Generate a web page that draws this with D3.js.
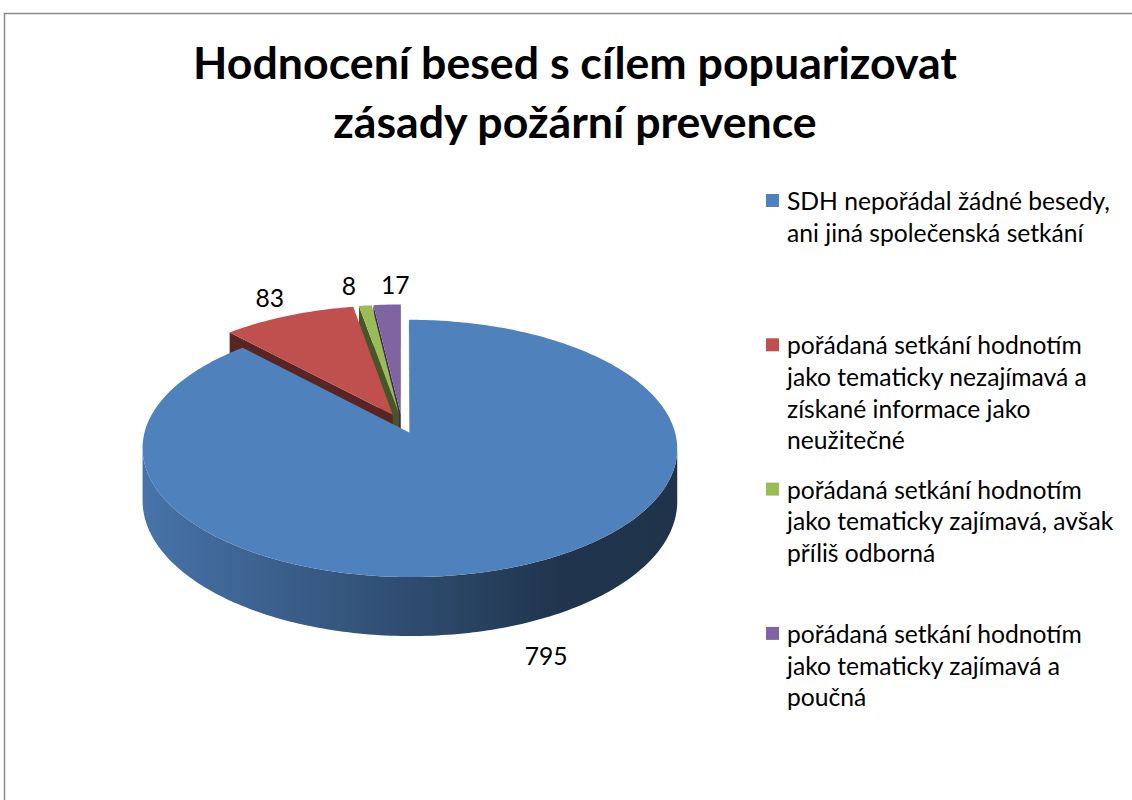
<!DOCTYPE html>
<html>
<head>
<meta charset="utf-8">
<script src="https://cdn.jsdelivr.net/npm/d3@7"></script>
<style>
  html, body { margin: 0; padding: 0; background: #fff; }
  svg { display: block; }
</style>
</head>
<body>
<div id="chart"></div>
<script>
// data
const titleLines = ['Hodnocení besed s cílem popuarizovat', 'zásady požární prevence'];
const categories = [
  'SDH nepořádal žádné besedy, ani jiná společenská setkání',
  'pořádaná setkání hodnotím jako tematicky nezajímavá a získané informace jako neužitečné',
  'pořádaná setkání hodnotím jako tematicky zajímavá, avšak příliš odborná',
  'pořádaná setkání hodnotím jako tematicky zajímavá a poučná'
];
const values = [795, 83, 8, 17];
const colors = ['#4f81bd', '#c0504d', '#9bbb59', '#8064a2'];

const width = 1132;
const height = 800;
const font = 'Lato, "Open Sans", sans-serif';

// 3d pie layout: ellipse seen in perspective, every slice pulled out a bit
const pie3d = { cx: 402, cy: 423.5, rx: 263, ry: 124.5, k: 0.12, depth: 51.4, explode: 0.08 };

const svg = d3.select('#chart')
  .append('svg')
  .attr('width', width)
  .attr('height', height)
  .attr('viewBox', `0 0 ${width} ${height}`);

svg.append('rect').attr('width', width).attr('height', height).attr('fill', '#fff');

// chart area border (right and bottom sides are outside the picture)
svg.append('path')
  .attr('d', `M4.5,${height} V13.5 H${width}`)
  .attr('fill', 'none')
  .attr('stroke', '#8a8a8a')
  .attr('stroke-width', 1.5);

// helper to measure text
const measure = svg.append('text').style('font-family', font).attr('visibility', 'hidden');
function textWidth(str, size, weight) {
  measure.style('font-size', size + 'px').style('font-weight', weight || 400).text(str);
  return measure.node().getComputedTextLength();
}

// title
const titleSize = 40 * 764 / textWidth(titleLines[0], 40, 700);
svg.append('g')
  .attr('class', 'title')
  .selectAll('text')
  .data(titleLines)
  .enter()
  .append('text')
  .attr('x', 575)
  .attr('y', (d, i) => 79 + i * 59)
  .attr('text-anchor', 'middle')
  .style('font-family', font)
  .style('font-weight', 700)
  .style('font-size', titleSize + 'px')
  .attr('fill', '#000')
  .text(d => d);

// text size matched so the first legend entry is as wide as in the original
const textSize = 24 * 626 / textWidth(categories[0], 24);

// wall gradients, light on the left, dark on the right
const defs = svg.append('defs');
colors.forEach((c, i) => {
  const grad = defs.append('linearGradient')
    .attr('id', 'wall' + i)
    .attr('gradientUnits', 'userSpaceOnUse')
    .attr('x1', pie3d.cx - pie3d.rx)
    .attr('x2', pie3d.cx + pie3d.rx)
    .attr('y1', 0)
    .attr('y2', 0);
  grad.append('stop').attr('offset', 0).attr('stop-color', d3.color(c).darker(0.3));
  grad.append('stop').attr('offset', 0.45).attr('stop-color', d3.color(c).darker(1.3));
  grad.append('stop').attr('offset', 0.8).attr('stop-color', d3.color(c).darker(2.5));
  grad.append('stop').attr('offset', 1).attr('stop-color', d3.color(c).darker(2.6));
});

// projection of the pie plane (u right, v toward viewer, z down)
function project(u, v, z) {
  const w = 1 / (1 - pie3d.k * v);
  return [pie3d.cx + pie3d.rx * u * w, pie3d.cy + (pie3d.ry * v + pie3d.depth * z) * w];
}

const slices = d3.pie().sort(null).startAngle(0).endAngle(2 * Math.PI)(values);
slices.forEach((d, i) => { d.index = i; d.mid = (d.startAngle + d.endAngle) / 2; });

function slicePoint(d, r, a, z) {
  const u = pie3d.explode * Math.sin(d.mid) + r * Math.sin(a);
  const v = -pie3d.explode * Math.cos(d.mid) - r * Math.cos(a);
  return project(u, v, z);
}

function arcAngles(d) {
  const n = Math.max(2, Math.ceil((d.endAngle - d.startAngle) / (Math.PI / 180)));
  return d3.range(n + 1).map(j => d.startAngle + (d.endAngle - d.startAngle) * j / n);
}

// side faces, keeping only the ones that face the viewer
function sideFaces(d) {
  const s = d.startAngle;
  const e = d.endAngle;
  const cut = d3.color(colors[d.index]).darker(2.2);
  const faces = [
    { pts: [slicePoint(d, 0, s, 0), slicePoint(d, 1, s, 0), slicePoint(d, 1, s, 1), slicePoint(d, 0, s, 1)], fill: cut },
    { pts: [slicePoint(d, 0, e, 0), slicePoint(d, 0, e, 1), slicePoint(d, 1, e, 1), slicePoint(d, 1, e, 0)], fill: cut }
  ].filter(f => d3.polygonArea(f.pts) > 0);

  // outer wall: join the visible runs of small segments into one shape
  const angs = arcAngles(d);
  const visible = d3.range(angs.length - 1).map(j => d3.polygonArea([
    slicePoint(d, 1, angs[j], 0), slicePoint(d, 1, angs[j + 1], 0),
    slicePoint(d, 1, angs[j + 1], 1), slicePoint(d, 1, angs[j], 1)
  ]) > 0);
  let j = 0;
  while (j < visible.length) {
    if (!visible[j]) { j++; continue; }
    let k = j;
    while (k + 1 < visible.length && visible[k + 1]) k++;
    const run = angs.slice(j, k + 2);
    const pts = run.map(a => slicePoint(d, 1, a, 0))
      .concat(run.slice().reverse().map(a => slicePoint(d, 1, a, 1)));
    faces.push({ pts: pts, fill: `url(#wall${d.index})` });
    j = k + 1;
  }
  return faces;
}

const line = d3.line().curve(d3.curveLinearClosed);

// far slices first
const drawOrder = slices.slice().sort((a, b) => -Math.cos(a.mid) + Math.cos(b.mid));

const pieG = svg.append('g').attr('class', 'pie');
drawOrder.forEach(d => {
  const g = pieG.append('g').attr('class', 'slice');
  g.selectAll('path.side')
    .data(sideFaces(d))
    .enter()
    .append('path')
    .attr('class', 'side')
    .attr('d', f => line(f.pts))
    .attr('fill', f => f.fill);

  const top = [slicePoint(d, 0, d.startAngle, 0)].concat(arcAngles(d).map(a => slicePoint(d, 1, a, 0)));
  g.append('path')
    .attr('class', 'top')
    .attr('d', line(top))
    .attr('fill', colors[d.index]);
});

// data labels just outside each slice, pushed apart where they crowd
const labels = slices.map(d => {
  const front = -Math.cos(d.mid) > 0 ? 1 : 0;
  const p = slicePoint(d, 1.2, d.mid, front);
  return { d: d, x: p[0], y: p[1], w: textWidth(String(d.value), textSize) };
});
const minGap = 25;
for (let it = 0; it < 20; it++) {
  labels.forEach((a, i) => labels.forEach((b, j) => {
    if (j <= i || Math.abs(a.y - b.y) > textSize) return;
    const left = a.x < b.x ? a : b;
    const right = a.x < b.x ? b : a;
    const gap = (right.x - right.w / 2) - (left.x + left.w / 2);
    if (gap < minGap) {
      left.x -= (minGap - gap) / 2;
      right.x += (minGap - gap) / 2;
    }
  }));
}

svg.append('g')
  .attr('class', 'labels')
  .selectAll('text')
  .data(labels)
  .enter()
  .append('text')
  .attr('x', l => l.x)
  .attr('y', l => l.y)
  .attr('text-anchor', 'middle')
  .attr('dy', '0.35em')
  .style('font-family', font)
  .style('font-size', textSize + 'px')
  .attr('fill', '#000')
  .text(l => l.d.value);

// legend
function wrap(str, maxWidth) {
  const words = str.split(' ');
  const lines = [];
  let cur = '';
  words.forEach(w => {
    const next = cur ? cur + ' ' + w : w;
    if (cur && textWidth(next, textSize) > maxWidth) {
      lines.push(cur);
      cur = w;
    } else {
      cur = next;
    }
  });
  lines.push(cur);
  return lines;
}

const legend = svg.append('g')
  .attr('class', 'legend')
  .attr('transform', 'translate(766, 210)');

const items = legend.selectAll('g')
  .data(categories)
  .enter()
  .append('g')
  .attr('transform', (d, i) => `translate(0, ${i * 144.3})`);

items.append('rect')
  .attr('x', 0)
  .attr('y', -16)
  .attr('width', 13)
  .attr('height', 13)
  .attr('fill', (d, i) => colors[i]);

items.append('text')
  .style('font-family', font)
  .style('font-size', textSize + 'px')
  .attr('fill', '#000')
  .each(function (d) {
    d3.select(this)
      .selectAll('tspan')
      .data(wrap(d, 342))
      .enter()
      .append('tspan')
      .attr('x', 21)
      .attr('y', (t, j) => j * 31.7)
      .text(t => t);
  });

measure.remove();
</script>
</body>
</html>
